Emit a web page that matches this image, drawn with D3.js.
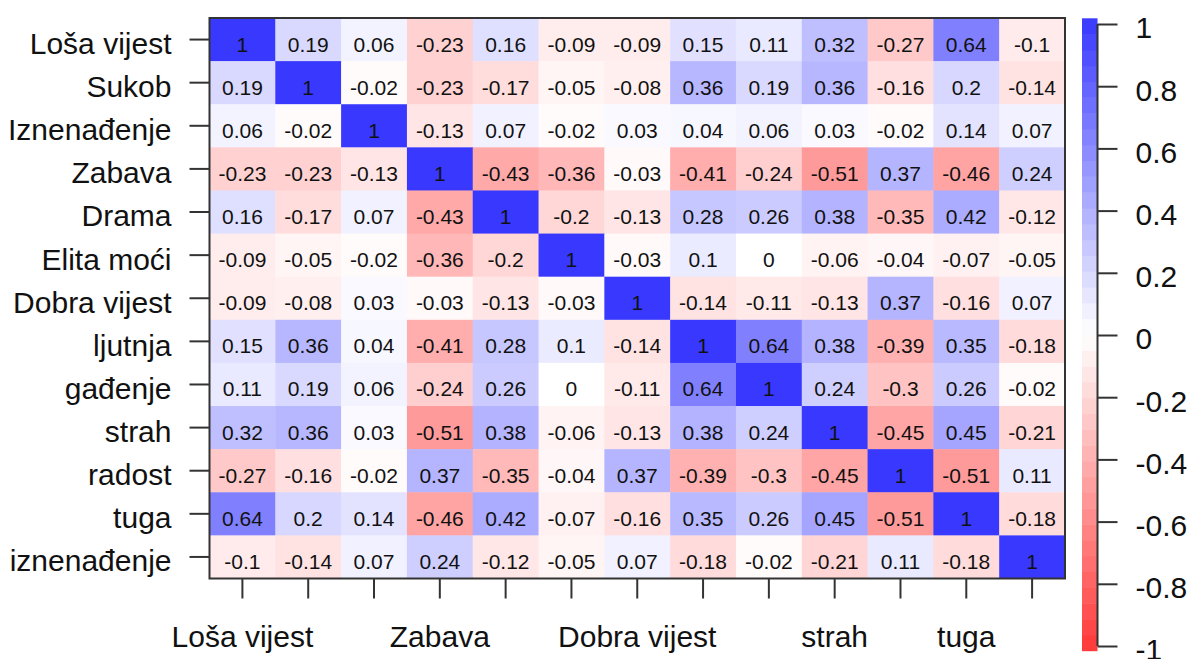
<!DOCTYPE html>
<html lang="en">
<head>
<meta charset="UTF-8">
<title>Correlation matrix</title>
<script src="https://d3js.org/d3.v7.min.js"></script>
<style>
  body { margin: 0; background: #fff; }
  text { font-family: "Liberation Sans", Arial, sans-serif; fill: #111; }
</style>
</head>
<body>
<div id="chart"></div>
<script>
// variables (rows and columns in the same order)
var vars = ["Loša vijest", "Sukob", "Iznenađenje", "Zabava", "Drama", "Elita moći",
  "Dobra vijest", "ljutnja", "gađenje", "strah", "radost", "tuga", "iznenađenje"];

// which x labels R actually managed to print (the rest overlapped)
var xShown = ["Loša vijest", "Zabava", "Dobra vijest", "strah", "tuga"];

// correlation matrix, one row per variable
var corr = [
  [1, 0.19, 0.06, -0.23, 0.16, -0.09, -0.09, 0.15, 0.11, 0.32, -0.27, 0.64, -0.1],
  [0.19, 1, -0.02, -0.23, -0.17, -0.05, -0.08, 0.36, 0.19, 0.36, -0.16, 0.2, -0.14],
  [0.06, -0.02, 1, -0.13, 0.07, -0.02, 0.03, 0.04, 0.06, 0.03, -0.02, 0.14, 0.07],
  [-0.23, -0.23, -0.13, 1, -0.43, -0.36, -0.03, -0.41, -0.24, -0.51, 0.37, -0.46, 0.24],
  [0.16, -0.17, 0.07, -0.43, 1, -0.2, -0.13, 0.28, 0.26, 0.38, -0.35, 0.42, -0.12],
  [-0.09, -0.05, -0.02, -0.36, -0.2, 1, -0.03, 0.1, 0, -0.06, -0.04, -0.07, -0.05],
  [-0.09, -0.08, 0.03, -0.03, -0.13, -0.03, 1, -0.14, -0.11, -0.13, 0.37, -0.16, 0.07],
  [0.15, 0.36, 0.04, -0.41, 0.28, 0.1, -0.14, 1, 0.64, 0.38, -0.39, 0.35, -0.18],
  [0.11, 0.19, 0.06, -0.24, 0.26, 0, -0.11, 0.64, 1, 0.24, -0.3, 0.26, -0.02],
  [0.32, 0.36, 0.03, -0.51, 0.38, -0.06, -0.13, 0.38, 0.24, 1, -0.45, 0.45, -0.21],
  [-0.27, -0.16, -0.02, 0.37, -0.35, -0.04, 0.37, -0.39, -0.3, -0.45, 1, -0.51, 0.11],
  [0.64, 0.2, 0.14, -0.46, 0.42, -0.07, -0.16, 0.35, 0.26, 0.45, -0.51, 1, -0.18],
  [-0.1, -0.14, 0.07, 0.24, -0.12, -0.05, 0.07, -0.18, -0.02, -0.21, 0.11, -0.18, 1]
];

// colour bar ticks
var legendTicks = [-1, -0.8, -0.6, -0.4, -0.2, 0, 0.2, 0.4, 0.6, 0.8, 1];

var W = 1189, H = 659;

var svg = d3.select("#chart").append("svg")
  .attr("width", W)
  .attr("height", H);

// plot box
var boxL = 209.5, boxR = 1065, boxT = 18, boxB = 578.5;

var x = d3.scaleBand().domain(vars).range([boxL, boxR]);
var y = d3.scaleBand().domain(vars).range([boxT, boxB]);

var color = d3.scaleLinear()
  .domain([-1, 0, 1])
  .range(["#ff3838", "#ffffff", "#3838ff"]);

// plain hyphen like R prints it
var fmt = function(v) { return String(v); };

// flatten to cells
var cells = [];
corr.forEach(function(row, i) {
  row.forEach(function(v, j) {
    cells.push({ r: vars[i], c: vars[j], v: v });
  });
});

svg.append("g")
  .selectAll("rect")
  .data(cells)
  .enter()
  .append("rect")
    .attr("x", function(d) { return x(d.c); })
    .attr("y", function(d) { return y(d.r); })
    .attr("width", x.bandwidth() + 0.5)
    .attr("height", y.bandwidth() + 0.5)
    .style("fill", function(d) { return color(d.v); });

// numbers in cells (R puts them a little below the middle)
svg.append("g")
  .selectAll("text")
  .data(cells)
  .enter()
  .append("text")
    .attr("x", function(d) { return x(d.c) + x.bandwidth() / 2; })
    .attr("y", function(d) { return y(d.r) + y.bandwidth() / 2; })
    .attr("dy", "0.57em")
    .attr("text-anchor", "middle")
    .style("font-size", "21px")
    .text(function(d) { return fmt(d.v); });

// box
svg.append("rect")
  .attr("x", boxL).attr("y", boxT)
  .attr("width", boxR - boxL).attr("height", boxB - boxT)
  .style("fill", "none")
  .style("stroke", "#333")
  .style("stroke-width", 2);

// left axis
var yAxis = svg.append("g")
  .attr("transform", "translate(" + boxL + ",0)")
  .call(d3.axisLeft(y).tickSize(20).tickPadding(18));

// bottom axis
var xAxis = svg.append("g")
  .attr("transform", "translate(0," + boxB + ")")
  .call(d3.axisBottom(x).tickSize(20).tickPadding(27)
    .tickFormat(function(d) { return xShown.indexOf(d) >= 0 ? d : ""; }));

[yAxis, xAxis].forEach(function(a) {
  a.select(".domain").remove();
  a.selectAll(".tick line").style("stroke", "#333").style("stroke-width", 2);
  a.selectAll(".tick text").style("font-size", "30px").style("fill", "#111")
    .style("font-family", "'Liberation Sans', Arial, sans-serif");
});
yAxis.selectAll(".tick text").attr("dy", "0.48em");

// colour bar
var barX = 1082, barW = 15.5;
var yBar = d3.scaleLinear().domain([-1, 1]).range([650.7, 18.3]);
var yLeg = d3.scaleLinear().domain([-1, 1]).range([646, 24]);

var steps = d3.range(-1, 1, 0.05);
svg.append("g")
  .selectAll("rect")
  .data(steps)
  .enter()
  .append("rect")
    .attr("x", barX)
    .attr("y", function(d) { return yBar(d + 0.05); })
    .attr("width", barW)
    .attr("height", function(d) { return yBar(d) - yBar(d + 0.05) + 0.5; })
    .style("fill", function(d) { return color(d + 0.025); });

var legAxis = svg.append("g")
  .attr("transform", "translate(" + (barX + barW) + ",0)")
  .call(d3.axisRight(yLeg).tickValues(legendTicks).tickSize(20).tickPadding(18)
    .tickFormat(fmt));

legAxis.select(".domain").style("stroke", "#333").style("stroke-width", 2)
  .attr("d", "M0," + yLeg(-1) + "V" + yLeg(1));
legAxis.selectAll(".tick line").style("stroke", "#333").style("stroke-width", 2);
legAxis.selectAll(".tick text").style("font-size", "30px").style("fill", "#111")
  .attr("dy", "0.46em")
  .style("font-family", "'Liberation Sans', Arial, sans-serif");
</script>
</body>
</html>
